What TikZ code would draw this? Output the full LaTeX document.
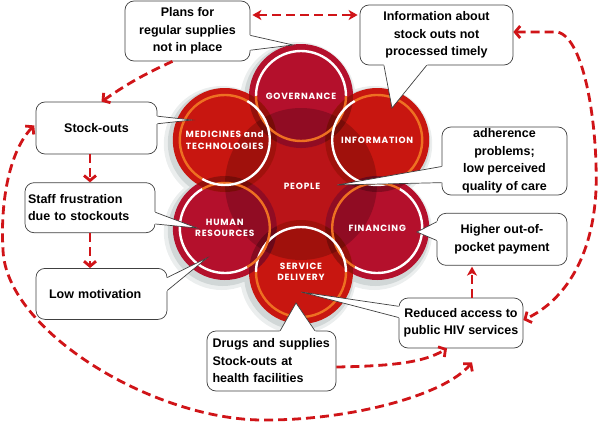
\documentclass[tikz,border=0pt]{standalone}
\usepackage{fontspec}
\setmainfont{Liberation Sans}
\newfontfamily\petalfont[LetterSpace=9]{Poppins}
\usetikzlibrary{arrows.meta,positioning,calc}

\definecolor{arrowred}{RGB}{208,20,24}
\definecolor{crimpetal}{RGB}{180,16,44}
\definecolor{redpetal}{RGB}{200,22,16}
\definecolor{peoplered}{RGB}{186,20,24}
\definecolor{ringorange}{RGB}{238,112,34}
\definecolor{shadowgrey}{RGB}{60,85,85}

\newcommand{\boxtext}{\fontsize{12.5}{17.5}\selectfont\bfseries}
\newcommand{\petaltext}{\petalfont\bfseries\fontsize{9}{11.5}\selectfont}

\tikzset{
	bubble/.style={draw=black!75,line width=.7pt,fill=white,rounded corners=9pt,font=\boxtext,align=center,inner sep=2pt},
	tailline/.style={draw=black!75,line width=.7pt},
	petal label/.style={text=white,font=\petaltext,align=center,inner sep=0pt},
	flow/.style={draw=arrowred,line width=2.8pt,dash pattern=on 9pt off 5pt},
	solidtip/.style={>={Stealth[length=9pt,width=10pt,inset=2.5pt]}}
}

\newcommand{\bubbletail}[3]{%
	\fill[white] ($(#1)!-2pt!(#3)$) -- (#3) -- ($(#2)!-2pt!(#3)$) -- cycle;
	\draw[tailline] (#1) -- (#3) -- (#2);}

\begin{document}
\begin{tikzpicture}[x=1pt,y=1pt,>={Straight Barb[length=5pt,width=12pt]}]
	\useasboundingbox (0,0) rectangle (600,-423);

	\coordinate (flower) at (301,-184);
	\begin{scope}[shift={(flower)}]
		\fill[shadowgrey,opacity=.10] foreach \a in {90,30,-30,-90,-150,150} {($(\a:88)+(-3,-4)$) circle (58)};
		\fill[shadowgrey,opacity=.15] foreach \a in {90,30,-30,-90,-150,150} {($(\a:88)+(-2,-3)$) circle (55)};

		\fill[peoplered] (0,0) circle (76);
		\foreach \a/\col in {90/crimpetal,30/redpetal,-30/crimpetal,-90/redpetal,-150/crimpetal,150/redpetal}
			\fill[\col] (\a:88) circle (52);

		\foreach \a/\b in {90/30,30/-30,-30/-90,-90/-150,-150/150,150/90} {
			\begin{scope}
				\clip (\a:88) circle (52);
				\fill[black,opacity=.25] (\b:88) circle (52);
			\end{scope}
		}
		\begin{scope}
			\clip (0,0) circle (76);
			\fill[black,opacity=.2] foreach \a in {90,30,-30,-90,-150,150} {(\a:88) circle (52)};
		\end{scope}

		\foreach \a/\outc/\inc in {90/white/ringorange,30/ringorange/white,-30/white/ringorange,-90/ringorange/white,-150/white/ringorange,150/ringorange/white} {
			\draw[\outc,line width=2.4pt] (\a:88) ++(\a-90:45) arc[start angle=\a-90,delta angle=180,radius=45];
			\draw[\inc,line width=2.4pt] (\a:88) ++(\a+90:45) arc[start angle=\a+90,delta angle=180,radius=45];
		}

		\node[petal label] (gov) at (90:88) {GOVERNANCE};
		\node[petal label] (infor) at (30:88) {INFORMATION};
		\node[petal label] (fin) at (-30:88) {FINANCING};
		\node[petal label] (serv) at (-90:88) {SERVICE\\DELIVERY};
		\node[petal label] (hr) at (-150:88) {HUMAN\\RESOURCES};
		\node[petal label] (med) at (150:88) {MEDICINES and\\TECHNOLOGIES};
		\node[petal label] (people) at (1,-2) {PEOPLE};
	\end{scope}

	\coordinate (govtip) at (293,-45);
	\coordinate (infotip) at (392,-108);
	\coordinate (peopletip) at (337,-185);
	\coordinate (medtip) at (192,-120);
	\coordinate (hrtip) at (197,-228);
	\coordinate (hrlowtip) at (207,-258);
	\coordinate (servtip) at (296,-303);
	\coordinate (fintip) at (417,-232);
	\coordinate (servaccesstip) at (301,-292);

	\node[bubble,minimum width=125pt,minimum height=60pt] (plans) at (187.5,-31) {Plans for\\regular supplies\\not in place};
	\node[bubble,minimum width=153pt,minimum height=60pt] (stockinfo) at (436.5,-35) {Information about\\stock outs not\\processed timely};
	\node[bubble,minimum width=125pt,minimum height=68pt,inner sep=0pt] (adherence) at (504.5,-161) {adherence\\problems;\\low perceived\\quality of care};
	\node[bubble,minimum width=121pt,minimum height=52pt] (stockouts) at (96.5,-128) {Stock-outs};
	\node[bubble,minimum width=130pt,minimum height=50pt,text width=124pt,align=left] (staff) [below=28pt of stockouts,xshift=-6.5pt] {Staff frustration\\due to stockouts};
	\node[bubble,minimum width=131pt,minimum height=51pt,text width=105pt,align=left] (lowmot) [below=35pt of staff,xshift=11.5pt] {Low motivation};
	\node[bubble,minimum width=129pt,minimum height=60pt,text width=118pt,align=left] (drugs) at (271.5,-361) {Drugs and supplies\\Stock-outs at\\health facilities};
	\node[bubble,minimum width=124pt,minimum height=50pt] (access) at (461,-323) {Reduced access to\\public HIV services};
	\node[bubble,minimum width=130pt,minimum height=52pt] (payment) [above=32pt of access,xshift=41pt] {Higher out-of-\\pocket payment};

	\bubbletail{plans.-4}{plans.-17}{govtip}
	\bubbletail{stockinfo.210}{stockinfo.252}{infotip}
	\bubbletail{adherence.185}{adherence.199}{peopletip}
	\bubbletail{stockouts.11}{stockouts.4}{medtip}
	\bubbletail{staff.-4}{staff.-14}{hrtip}
	\bubbletail{lowmot.14}{lowmot.3}{hrlowtip}
	\bubbletail{drugs.74}{drugs.35}{servtip}
	\bubbletail{payment.165}{payment.181}{fintip}
	\bubbletail{access.165}{access.175}{servaccesstip}

	\coordinate (toparrow) at ([yshift=16pt]plans.east);
	\draw[flow,solidtip,<->,shorten <=2pt,shorten >=2pt] (toparrow) -- (toparrow -| stockinfo.west);
	\draw[flow,->] ([xshift=-15pt]plans.south) to[bend right=5] ([xshift=5pt]stockouts.north);
	\draw[flow,->] (stockouts.south -| staff.north) -- (staff.north);
	\draw[flow,->] (staff.south) -- (staff.south |- lowmot.north);
	\draw[flow,solidtip,->] ([xshift=11pt]access.north) -- ++(0,31);
	\draw[flow,<->] ([yshift=3pt]stockinfo.east) -- ++(44,0) .. controls +(28,-6) and (598,-130) .. (596,-190) .. controls (593,-255) and (566,-300) .. ([yshift=3pt]access.east);
	\draw[flow,->] ([yshift=-6pt]drugs.east) .. controls (395,-366) and (425,-362) .. ([xshift=-14pt]access.south);
	\draw[flow,<->,shorten <=2pt] ([yshift=4pt]stockouts.west) .. controls (10,-150) and (0,-200) .. (3,-250) .. controls (6,-330) and (150,-418) .. (260,-420) .. controls (350,-421) and (445,-395) .. ([xshift=11pt,yshift=-14pt]access.south);
\end{tikzpicture}
\end{document}
